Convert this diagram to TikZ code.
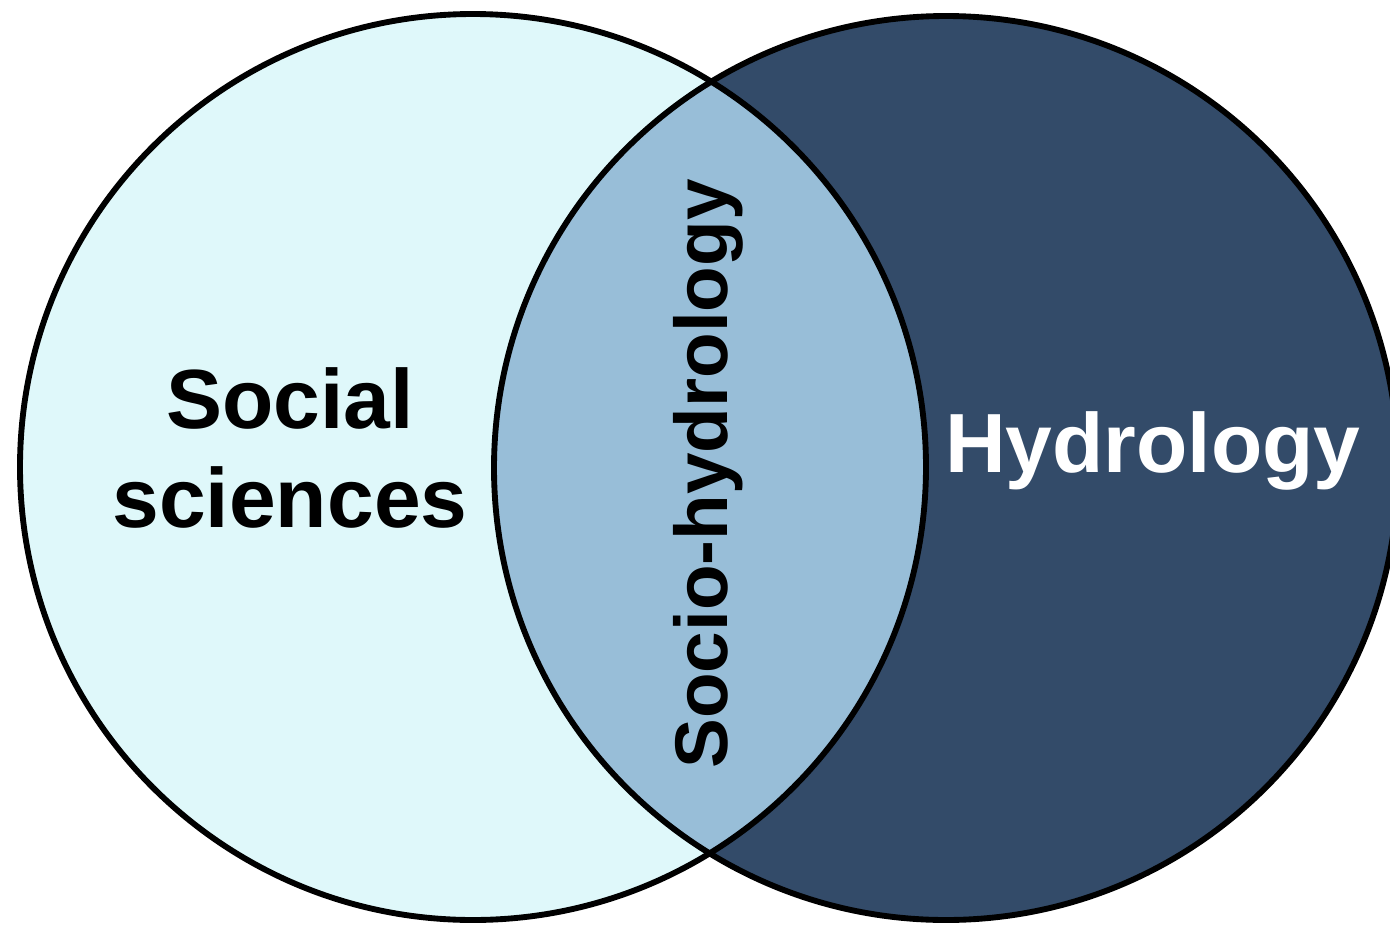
\documentclass[tikz,border=0pt]{standalone}
\usepackage{fontspec}
\setmainfont{Liberation Sans}
\usepackage{xcolor}
\definecolor{socialfill}{RGB}{223,248,250}
\definecolor{hydrofill}{RGB}{51,75,105}
\definecolor{lensfill}{RGB}{152,190,216}
\tikzset{
  biglabel/.style={font=\fontsize{63}{74}\selectfont\bfseries, align=center},
  lenslabel/.style={font=\fontsize{56}{66}\selectfont\bfseries, rotate=90, anchor=base},
  rim/.style={draw=black, line width=4.4pt}
}

\begin{document}
\begin{tikzpicture}[x=0.75pt,y=0.75pt,yscale=-1,xscale=1]
\useasboundingbox (0,0) rectangle (1390,925);

%Shape: Circle [social]
\fill [socialfill] (473,467) circle (453);
%Shape: Circle [hydro]
\fill [hydrofill] (946,468) circle (452);
%Shape: Lens [overlap]
\begin{scope}
  \clip (473,467) circle (453);
  \fill [lensfill] (946,468) circle (452);
\end{scope}
%Outlines
\draw [rim] (473,467) circle (453);
\draw [rim] (946,468) circle (452);

% Text Node
\node [biglabel, anchor=base] (social) at (290,527) {Social\\sciences};
% Text Node
\node [biglabel, anchor=base, text=white] (hydro) at (1153,472) {Hydrology};
% Text Node
\node [lenslabel] (sociohydro) at (727,474) {Socio-hydrology};

\end{tikzpicture}
\end{document}
